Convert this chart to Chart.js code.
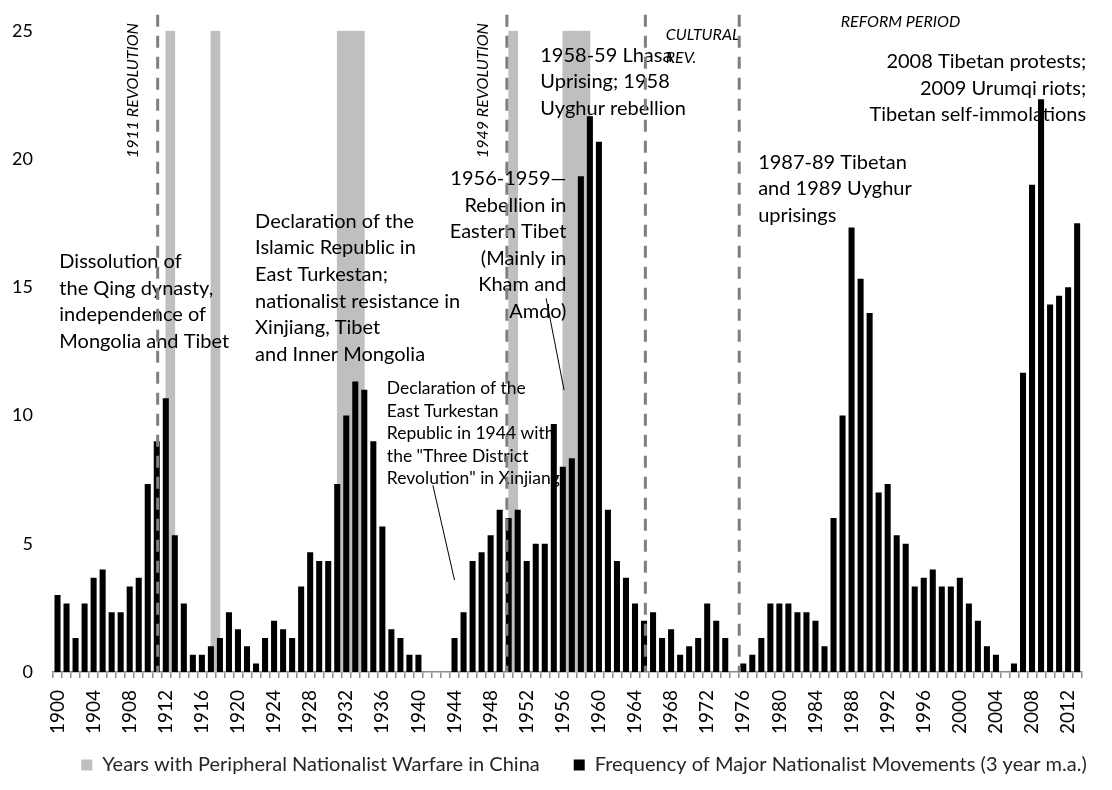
<!DOCTYPE html>
<html>
<head>
<meta charset="utf-8">
<script src="https://cdn.jsdelivr.net/npm/chart.js@4.4.1/dist/chart.umd.min.js"></script>
<style>
  body { margin: 0; background: #fff; }
  canvas { display: block; }
</style>
</head>
<body>
<canvas id="myChart" width="1112" height="790"></canvas>
<script>
// categories
const years = [
  1900, 1901, 1902, 1903, 1904, 1905, 1906, 1907, 1908, 1909,
  1910, 1911, 1912, 1913, 1914, 1915, 1916, 1917, 1918, 1919,
  1920, 1921, 1922, 1923, 1924, 1925, 1926, 1927, 1928, 1929,
  1930, 1931, 1932, 1933, 1934, 1935, 1936, 1937, 1938, 1939,
  1940, 1941, 1942, 1943, 1944, 1945, 1946, 1947, 1948, 1949,
  1950, 1951, 1952, 1953, 1954, 1955, 1956, 1957, 1958, 1959,
  1960, 1961, 1962, 1963, 1964, 1965, 1966, 1967, 1968, 1969,
  1970, 1971, 1972, 1973, 1974, 1975, 1976, 1977, 1978, 1979,
  1980, 1981, 1982, 1983, 1984, 1985, 1986, 1987, 1988, 1989,
  1990, 1991, 1992, 1993, 1994, 1995, 1996, 1997, 1998, 1999,
  2000, 2001, 2002, 2003, 2004, 2005, 2006, 2007, 2008, 2009,
  2010, 2011, 2012, 2013
];

// frequency of major nationalist movements (3 year m.a.)
const movements = [
  3.0, 2.67, 1.33, 2.67, 3.67, 4.0, 2.33, 2.33, 3.33, 3.67,
  7.33, 9.0, 10.67, 5.33, 2.67, 0.67, 0.67, 1.0, 1.33, 2.33,
  1.67, 1.0, 0.33, 1.33, 2.0, 1.67, 1.33, 3.33, 4.67, 4.33,
  4.33, 7.33, 10.0, 11.33, 11.0, 9.0, 5.67, 1.67, 1.33, 0.67,
  0.67, 0, 0, 0, 1.33, 2.33, 4.33, 4.67, 5.33, 6.33,
  6.0, 6.33, 4.33, 5.0, 5.0, 9.67, 8.0, 8.33, 19.33, 21.67,
  20.67, 6.33, 4.33, 3.67, 2.67, 2.0, 2.33, 1.33, 1.67, 0.67,
  1.0, 1.33, 2.67, 2.0, 1.33, 0, 0.33, 0.67, 1.33, 2.67,
  2.67, 2.67, 2.33, 2.33, 2.0, 1.0, 6.0, 10.0, 17.33, 15.33,
  14.0, 7.0, 7.33, 5.33, 5.0, 3.33, 3.67, 4.0, 3.33, 3.33,
  3.67, 2.67, 2.0, 1.0, 0.67, 0, 0.33, 11.67, 19.0, 22.33,
  14.33, 14.67, 15.0, 17.5
];

// years with peripheral nationalist warfare
const warfareYears = [1912, 1917, 1931, 1932, 1933, 1950, 1956, 1957, 1958];
const warfareLevel = 25;

// x tick labels shown
const tickYears = [
  1900, 1904, 1908, 1912, 1916, 1920, 1924, 1928, 1932, 1936,
  1940, 1944, 1948, 1952, 1956, 1960, 1964, 1968, 1972, 1976,
  1980, 1984, 1988, 1992, 1996, 2000, 2004, 2008, 2012
];

// the warfare bands sit on a second axis whose labels fall between years
const bandLabels = [1899].concat(years);
const warfare = bandLabels.map(y => warfareYears.includes(y) ? warfareLevel : null);

// notes
const eventLines = [1911.1, 1949.8, 1965.15, 1975.55];
const periodNotes = [
  { text: "1911 REVOLUTION", year: 1908.4, value: 22.67, vertical: true },
  { text: "1949 REVOLUTION", year: 1947.1, value: 22.67, vertical: true },
  { text: "CULTURAL", year: 1967.4, value: 24.85 },
  { text: "REV.", year: 1967.4, value: 23.94 },
  { text: "REFORM PERIOD", year: 1986.8, value: 25.34 }
];
const eventNotes = [
  { lines: ["Dissolution of", "the Qing dynasty,", "independence of", "Mongolia and Tibet"],
    year: 1900.2, value: 16.0, align: "left" },
  { lines: ["Declaration of the", "Islamic Republic in", "East Turkestan;", "nationalist resistance in", "Xinjiang, Tibet", "and Inner Mongolia"],
    year: 1921.9, value: 17.57, align: "left" },
  { lines: ["Declaration of the", "East Turkestan", "Republic in 1944 with", "the \"Three District", "Revolution\" in Xinjiang."],
    year: 1936.5, value: 11.06, align: "left", small: true },
  { lines: ["1956-1959\u2014", "Rebellion in", "Eastern Tibet", "(Mainly in", "Kham and", "Amdo)"],
    year: 1956.4, value: 19.24, align: "right" },
  { lines: ["1958-59 Lhasa", "Uprising; 1958", "Uyghur rebellion"],
    year: 1953.5, value: 24.04, align: "left" },
  { lines: ["1987-89 Tibetan", "and 1989 Uyghur", "uprisings"],
    year: 1977.65, value: 19.87, align: "left" },
  { lines: ["2008 Tibetan protests;", "2009 Urumqi riots;", "Tibetan self-immolations"],
    year: 2014.0, value: 23.8, align: "right" }
];
const pointers = [
  { from: [1941.6, 7.28], to: [1944.0, 3.58] },
  { from: [1954.15, 14.57], to: [1956.14, 10.99] }
];

const FONT = "Lato, 'Open Sans', sans-serif";

function xPos(chart, year) {
  return chart.scales.x.getPixelForValue(year - years[0]);
}
function yPos(chart, value) {
  return chart.scales.y.getPixelForValue(value);
}

const notesPlugin = {
  id: "notes",
  afterLayout(chart) {
    // legend sits a little right of centre in the original
    chart.legend.left += 28;
    chart.legend.right += 28;
    // let the rotated year labels run down over the legend band
    chart.scales.x.bottom = chart.height;
  },
  // text goes above the gray bands but under the black bars
  afterDatasetDraw(chart, args) {
    if (args.index !== 0) return;
    const ctx = chart.ctx;
    ctx.save();
    ctx.fillStyle = "#000";
    ctx.textBaseline = "middle";
    eventNotes.forEach(n => {
      const size = n.small ? 17.5 : 20;
      const lh = n.small ? 22.6 : 26.6;
      ctx.font = size + "px " + FONT;
      ctx.textAlign = n.align;
      const x = xPos(chart, n.year);
      const y0 = yPos(chart, n.value);
      n.lines.forEach((line, i) => ctx.fillText(line, x, y0 + i * lh));
    });
    ctx.font = "italic 16px " + FONT;
    periodNotes.forEach(n => {
      const x = xPos(chart, n.year);
      const y = yPos(chart, n.value);
      if (n.vertical) {
        ctx.save();
        ctx.translate(x, y);
        ctx.rotate(-Math.PI / 2);
        ctx.textAlign = "center";
        ctx.fillText(n.text, 0, 0);
        ctx.restore();
      } else {
        ctx.textAlign = "left";
        ctx.fillText(n.text, x, y);
      }
    });
    ctx.restore();
  },
  afterDatasetsDraw(chart) {
    const ctx = chart.ctx;
    ctx.save();
    ctx.strokeStyle = "#7f7f7f";
    ctx.lineWidth = 3;
    ctx.setLineDash([12, 9]);
    eventLines.forEach(yr => {
      const x = xPos(chart, yr);
      ctx.beginPath();
      ctx.moveTo(x, yPos(chart, 25.63));
      ctx.lineTo(x, yPos(chart, 0));
      ctx.stroke();
    });
    ctx.setLineDash([]);
    ctx.strokeStyle = "#000";
    ctx.lineWidth = 1;
    pointers.forEach(p => {
      ctx.beginPath();
      ctx.moveTo(xPos(chart, p.from[0]), yPos(chart, p.from[1]));
      ctx.lineTo(xPos(chart, p.to[0]), yPos(chart, p.to[1]));
      ctx.stroke();
    });
    ctx.restore();
  }
};

const myChart = document.getElementById("myChart");
const chart = new Chart(myChart, {
  type: "bar",
  data: {
    labels: years,
    datasets: [
      {
        label: "Years with Peripheral Nationalist Warfare in China",
        data: warfare,
        xAxisID: "x2",
        backgroundColor: "#bfbfbf",
        barPercentage: 1,
        categoryPercentage: 1,
        grouped: false,
        order: 1
      },
      {
        label: "Frequency of Major Nationalist Movements (3 year m.a.)",
        data: movements,
        xAxisID: "x",
        backgroundColor: "#000",
        barPercentage: 0.67,
        categoryPercentage: 1,
        grouped: false,
        order: 0
      }
    ]
  },
  options: {
    responsive: false,
    animation: false,
    layout: { padding: { left: 12, right: 12, top: 30, bottom: 5 } },
    plugins: {
      tooltip: { enabled: false },
      legend: {
        position: "bottom",
        labels: {
          boxWidth: 11,
          boxHeight: 11,
          padding: 34,
          color: "#262626",
          font: { family: FONT, size: 20 },
          sort: (a, b) => a.datasetIndex - b.datasetIndex
        }
      }
    },
    scales: {
      x: {
        type: "category",
        offset: true,
        grid: { offset: true, drawOnChartArea: false, drawTicks: true, tickLength: 6, color: "#8c8c8c", lineWidth: 1.5 },
        border: { color: "#8c8c8c", width: 1.5 },
        ticks: {
          autoSkip: false,
          minRotation: 90,
          maxRotation: 90,
          padding: 12,
          color: "#000",
          font: { family: FONT, size: 19 },
          callback: (v, i) => tickYears.includes(years[i]) ? String(years[i]) : ""
        },
        afterFit: (s) => { s.height = 49; }
      },
      x2: {
        type: "category",
        labels: bandLabels,
        offset: false,
        display: false
      },
      y: {
        min: 0,
        max: 25,
        ticks: { stepSize: 5, padding: 20, color: "#000", font: { family: FONT, size: 18 } },
        grid: { display: false, drawTicks: false },
        border: { display: false },
        afterFit: (s) => { s.width = 41; }
      }
    }
  },
  plugins: [notesPlugin]
});
</script>
</body>
</html>
